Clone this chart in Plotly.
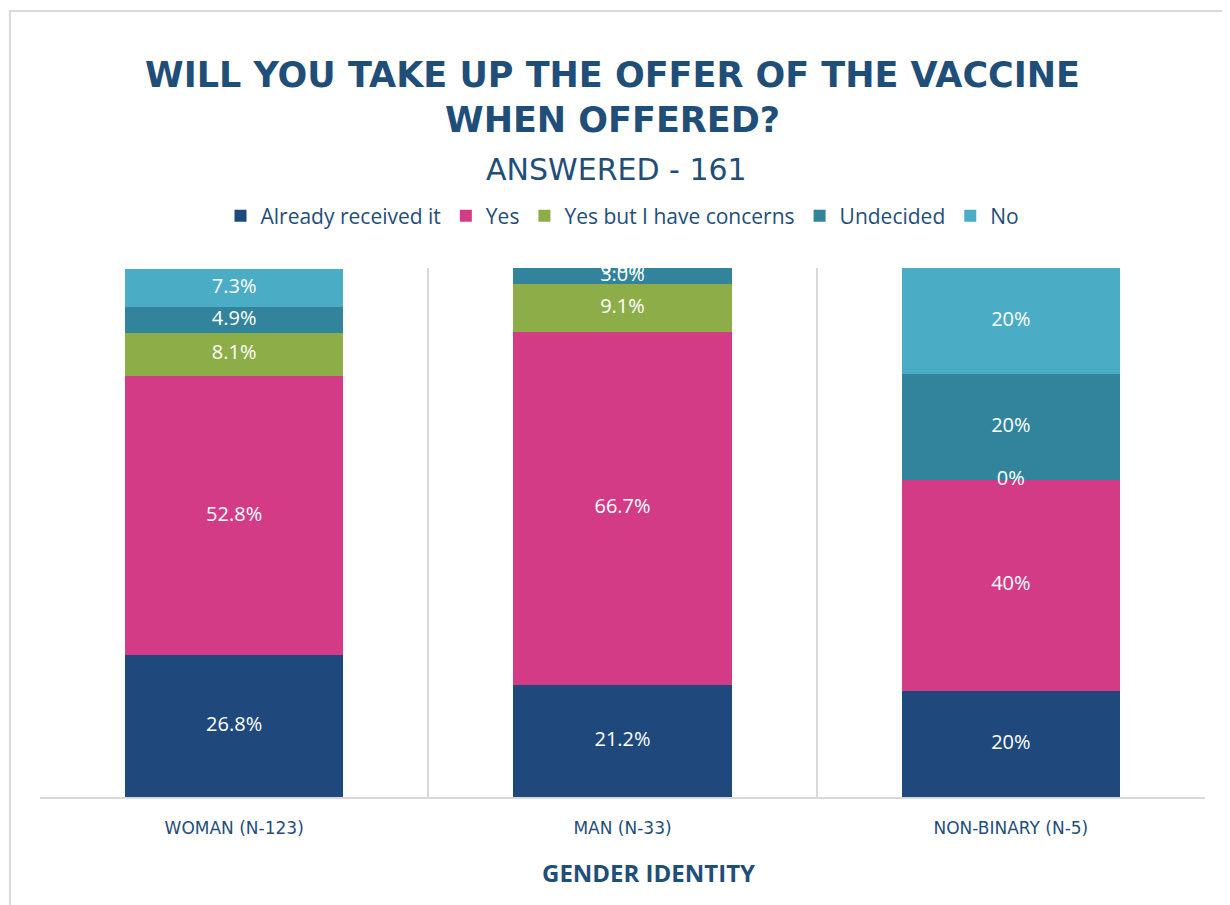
import plotly.graph_objects as go

categories = ["WOMAN (N-123)", "MAN (N-33)", "NON-BINARY (N-5)"]
label_decimals = [1, 1, 0]

series_names = ["Already received it", "Yes", "Yes but I have concerns", "Undecided", "No"]
already_received = [26.8, 21.2, 20.0]
yes = [52.8, 66.7, 40.0]
yes_concerns = [8.1, 9.1, 0.0]
undecided = [4.9, 3.0, 20.0]
no = [7.3, 0.0, 20.0]

colors = ["#1f497d", "#d33b87", "#8cad48", "#31849b", "#4bacc6"]

NAVY = "#1f4e79"
FONT = "Open Sans"
WIDE = "DejaVu Sans"

series_values = [already_received, yes, yes_concerns, undecided, no]

fig = go.Figure()

# stacked bars
for name, vals, col in zip(series_names, series_values, colors):
    fig.add_trace(go.Bar(
        x=categories, y=vals, name=name,
        marker=dict(color=col, line=dict(width=0)),
        hoverinfo="skip",
    ))

# data labels, placed at the middle of each segment
base = [0.0] * len(categories)
for vals in series_values:
    mids = [b + v / 2 for b, v in zip(base, vals)]
    texts = [f"{v:.{d}f}%" for v, d in zip(vals, label_decimals)]
    fig.add_trace(go.Scatter(
        x=categories, y=mids, text=texts, mode="text",
        textfont=dict(color="white", size=20, family=FONT),
        showlegend=False, hoverinfo="skip", cliponaxis=True,
    ))
    base = [b + v for b, v in zip(base, vals)]

fig.update_layout(
    width=1230,
    height=905,
    margin=dict(l=32, r=33, t=260, b=116),
    barmode="stack",
    bargap=0.438,
    paper_bgcolor="white",
    plot_bgcolor="white",
    font=dict(family=FONT, color=NAVY),
    title=dict(
        text="<b>WILL YOU TAKE UP THE OFFER OF THE VACCINE<br>WHEN OFFERED?</b>",
        font=dict(size=35, color=NAVY, family=WIDE),
        x=0.4915, xanchor="center", yref="container", y=0.913, yanchor="top",
    ),
    legend=dict(
        orientation="h", x=0.5, xanchor="center", y=1.098, yanchor="middle",
        font=dict(size=21, color=NAVY, family=FONT),
        traceorder="normal", itemwidth=30,
    ),
    xaxis=dict(
        type="category",
        tickson="boundaries",
        showgrid=True, gridcolor="#d9d9d9", gridwidth=1.5,
        showline=True, linecolor="#d9d9d9", linewidth=2,
        ticks="",
        ticklabelstandoff=15,
        tickfont=dict(size=17, color=NAVY, family=WIDE),
        fixedrange=True,
    ),
    yaxis=dict(
        range=[0, 100], showticklabels=False, showgrid=False, zeroline=False,
        showline=False, ticks="", fixedrange=True,
    ),
    annotations=[
        dict(
            text="ANSWERED - 161", xref="paper", yref="paper", x=0.495, y=1.1853,
            xanchor="center", yanchor="middle", showarrow=False,
            font=dict(size=30, color=NAVY, family=WIDE),
        ),
        dict(
            text="<b>GENDER IDENTITY</b>", xref="paper", yref="paper", x=0.522, y=-0.1418,
            xanchor="center", yanchor="middle", showarrow=False,
            font=dict(size=24, color=NAVY, family=FONT),
        ),
    ],
    shapes=[
        dict(
            type="rect", xref="paper", yref="paper",
            x0=-0.0258, x1=1.1, y0=-0.3, y1=1.486,
            line=dict(color="#d9d9d9", width=2), fillcolor="rgba(0,0,0,0)", layer="below",
        )
    ],
)

fig.write_html("out.html")
